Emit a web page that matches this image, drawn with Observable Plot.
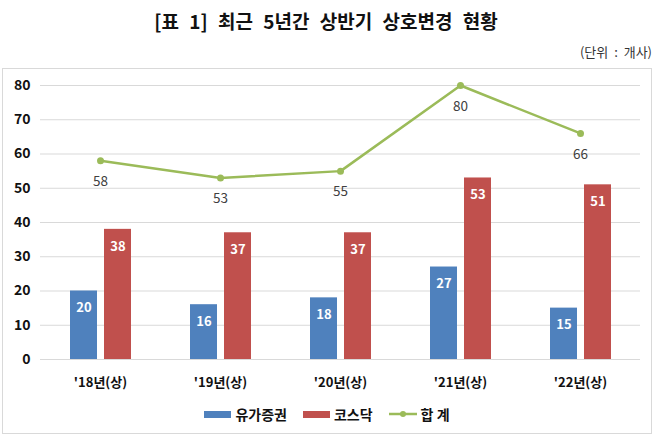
<!DOCTYPE html>
<html><head><meta charset="utf-8">
<script src="https://cdn.jsdelivr.net/npm/d3@7"></script>
<script src="https://cdn.jsdelivr.net/npm/@observablehq/plot@0.6"></script>
<style>
body{margin:0;background:#fff;font-family:"Noto Sans CJK KR","Noto Sans",sans-serif;}
#wrap{position:relative;width:658px;height:442px;}
#title{position:absolute;top:7px;left:0;width:652px;text-align:center;font-size:19px;font-weight:bold;color:#111;word-spacing:6px;}
#unit{position:absolute;top:42px;right:6px;font-size:13px;color:#333;word-spacing:3px;}
#box{position:absolute;left:2px;top:68px;width:648px;height:364px;border:1px solid #d9d9d9;}
#legend{position:absolute;top:335px;left:0;width:648px;display:flex;justify-content:center;align-items:center;font-size:14px;font-weight:bold;color:#111;gap:0;}
.item{display:flex;align-items:center;margin:0 8px;}
.sw{width:27px;height:7px;margin-right:4px;}
</style></head>
<body><div id="wrap">
<div id="title">[표 1] 최근 5년간 상반기 상호변경 현황</div>
<div id="unit">(단위 : 개사)</div>
<div id="box"><div id="chart"></div>
<div id="legend"></div></div>
</div>
<script>
const categories = ["'18년(상)", "'19년(상)", "'20년(상)", "'21년(상)", "'22년(상)"];
const kospi = [20, 16, 18, 27, 15];
const kosdaq = [38, 37, 37, 53, 51];
const total = [58, 53, 55, 80, 66];
const seriesNames = ["유가증권", "코스닥", "합 계"];
const colors = ["#4f81bd", "#c0504d", "#9bbb59"];
const yTicks = [0, 10, 20, 30, 40, 50, 60, 70, 80];

const rowsA = categories.map((c, i) => ({cat: c, v: kospi[i]}));
const rowsB = categories.map((c, i) => ({cat: c, v: kosdaq[i]}));
const rowsT = categories.map((c, i) => ({cat: c, v: total[i]}));

const chart = Plot.plot({
  width: 648, height: 327,
  marginLeft: 37, marginRight: 11, marginTop: 16, marginBottom: 37,
  style: {fontFamily: '"Noto Sans CJK KR","Noto Sans",sans-serif', background: "transparent"},
  x: {domain: categories, padding: 0, label: null},
  y: {domain: [0, 80], ticks: yTicks, label: null},
  marks: [
    Plot.gridY(yTicks, {stroke: "#d9d9d9", strokeOpacity: 1, strokeWidth: 1}),
    Plot.axisY(yTicks, {tickSize: 0, tickPadding: 10, fontSize: 14, fontWeight: "bold", fill: "#111", label: null}),
    Plot.axisX({tickSize: 0, tickPadding: 18, fontSize: 13, fontWeight: "bold", fill: "#111", label: null}),
    Plot.barY(rowsA, {x: "cat", y: "v", fill: colors[0], insetLeft: 30, insetRight: 63}),
    Plot.barY(rowsB, {x: "cat", y: "v", fill: colors[1], insetLeft: 64, insetRight: 29}),
    Plot.text(rowsA, {x: "cat", y: "v", text: "v", dx: -16.5, dy: 17, fill: "white", fontWeight: "bold", fontSize: 13}),
    Plot.text(rowsB, {x: "cat", y: "v", text: "v", dx: 17.5, dy: 17, fill: "white", fontWeight: "bold", fontSize: 13}),
    Plot.line(rowsT, {x: "cat", y: "v", stroke: colors[2], strokeWidth: 2.5}),
    Plot.dot(rowsT, {x: "cat", y: "v", fill: colors[2], r: 3.5}),
    Plot.text(rowsT, {x: "cat", y: "v", text: "v", dy: 21, fill: "#404040", fontSize: 13.5})
  ]
});
document.getElementById("chart").appendChild(chart);

const lg = document.getElementById("legend");
seriesNames.forEach((n, i) => {
  const it = document.createElement("div"); it.className = "item";
  if (i < 2) {
    it.innerHTML = `<div class="sw" style="background:${colors[i]}"></div><span>${n}</span>`;
  } else {
    it.innerHTML = `<svg width="28" height="10" style="margin-right:4px"><line x1="0" y1="5" x2="28" y2="5" stroke="${colors[i]}" stroke-width="2.5"/><circle cx="14" cy="5" r="3" fill="${colors[i]}"/></svg><span>${n}</span>`;
  }
  lg.appendChild(it);
});
</script></body></html>
